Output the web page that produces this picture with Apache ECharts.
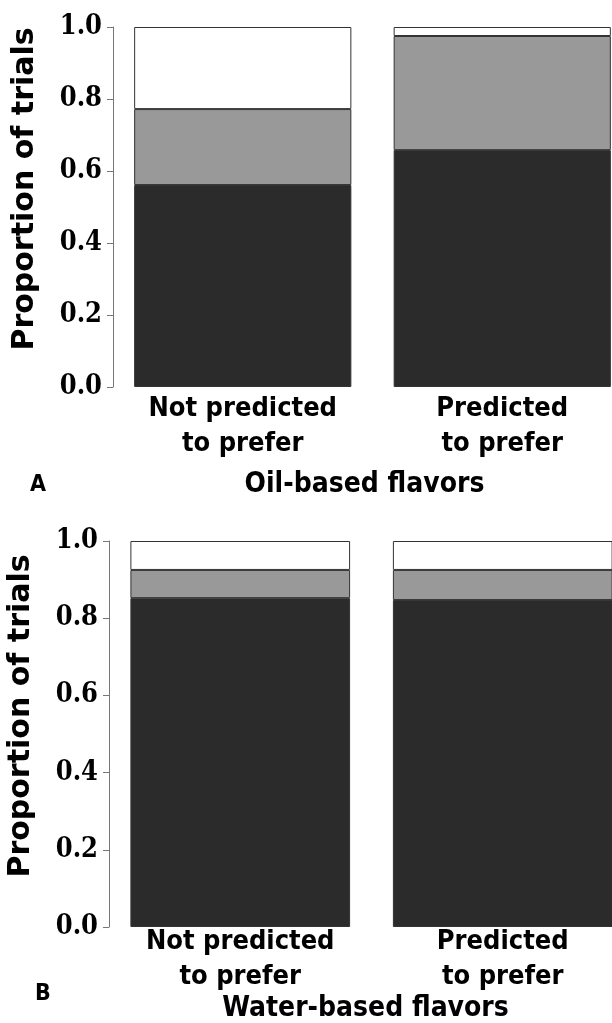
<!DOCTYPE html>
<html><head><meta charset="utf-8">
<script src="https://cdn.jsdelivr.net/npm/echarts@6/dist/echarts.min.js"></script>
<style>html,body{margin:0;padding:0;background:#fff}#c{width:612px;height:1023px}</style>
</head><body><div id="c"></div>
<script>
const categories = ['Not predicted\nto prefer', 'Predicted\nto prefer'];
const yTicks = ['0.0', '0.2', '0.4', '0.6', '0.8', '1.0'];
const oilLow = [0.561, 0.658];
const oilMid = [0.211, 0.317];
const oilTop = [0.228, 0.025];
const waterLow = [0.852, 0.847];
const waterMid = [0.073, 0.078];
const waterTop = [0.075, 0.075];

const chart = echarts.init(document.getElementById('c'), null, {renderer: 'canvas'});
const labelFont = 'DejaVu Sans Condensed';
const titleFont = 'DejaVu Sans';
const tickFont = 'DejaVu Serif Condensed';

function xAx(gi, name, gap, lblMargin, shift) {
  return {
    type: 'category', gridIndex: gi, data: categories,
    axisLine: {show: false}, axisTick: {show: false},
    axisLabel: {color: '#000', fontFamily: labelFont, fontSize: 27, fontWeight: 'bold', lineHeight: 35, margin: lblMargin},
    name: name, nameLocation: 'middle', nameGap: gap,
    nameTextStyle: {color: '#000', fontFamily: labelFont, fontSize: 28, fontWeight: 'bold', padding: [0, shift, 0, 0]}
  };
}
function yAx(gi) {
  return {
    type: 'value', gridIndex: gi, min: 0, max: 1, interval: 0.2,
    axisLine: {show: true, lineStyle: {color: '#777', width: 1}},
    axisTick: {show: true, length: 6, lineStyle: {color: '#777'}},
    splitLine: {show: false},
    axisLabel: {color: '#000', fontFamily: tickFont, fontSize: 27, fontWeight: 'bold', margin: 11,
      formatter: v => yTicks[Math.round(v * 5)]},
    name: 'Proportion of trials', nameLocation: 'middle', nameRotate: 90, nameGap: 73,
    nameTextStyle: {color: '#000', fontFamily: titleFont, fontSize: 30, fontWeight: 'bold', padding: [0, 0, 0, 36]}
  };
}
function bar(xi, data, color) {
  return {
    type: 'bar', xAxisIndex: xi, yAxisIndex: xi, stack: 's' + xi, data: data,
    barWidth: '83.7%',
    itemStyle: {color: color, borderColor: '#333', borderWidth: 1},
    emphasis: {disabled: true}
  };
}

chart.setOption({
  animation: false,
  grid: [
    {left: 113, top: 27, width: 519, height: 360, outerBoundsMode: 'none', containLabel: false},
    {left: 109, top: 541, width: 525, height: 386, outerBoundsMode: 'none', containLabel: false}
  ],
  xAxis: [xAx(0, 'Oil-based flavors', 84, 4, 16), xAx(1, 'Water-based flavors', 68, -3, 12)],
  yAxis: [yAx(0), yAx(1)],
  series: [
    bar(0, oilLow, '#2b2b2b'), bar(0, oilMid, '#999999'), bar(0, oilTop, '#ffffff'),
    bar(1, waterLow, '#2b2b2b'), bar(1, waterMid, '#999999'), bar(1, waterTop, '#ffffff')
  ],
  graphic: [
    {type: 'text', left: 30, top: 474, style: {text: 'A', fontFamily: labelFont, fontSize: 23, fontWeight: 'bold', fill: '#000'}},
    {type: 'text', left: 35, top: 983, style: {text: 'B', fontFamily: labelFont, fontSize: 23, fontWeight: 'bold', fill: '#000'}}
  ]
});
</script></body></html>
